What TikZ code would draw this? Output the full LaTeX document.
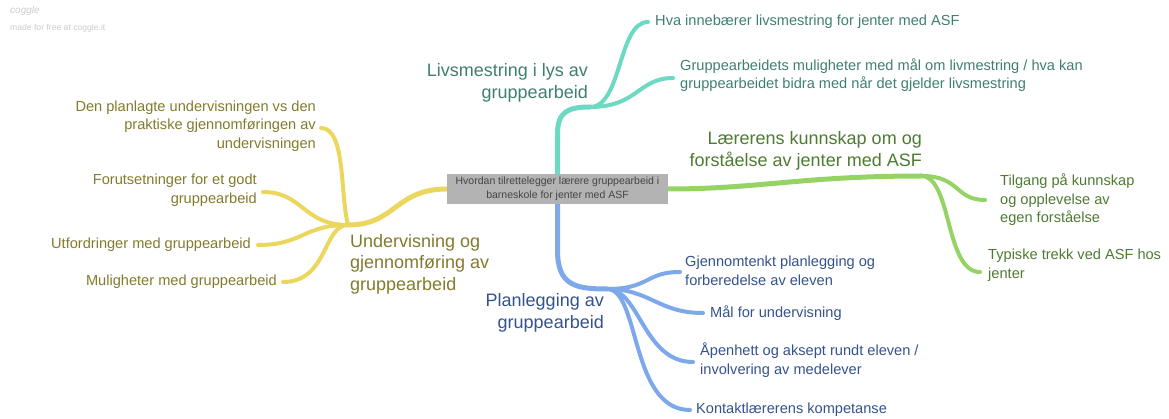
\documentclass[tikz,border=0pt]{standalone}
\usepackage{fontspec}
\setmainfont{Liberation Sans}
\usetikzlibrary{backgrounds}

\definecolor{tealline}{HTML}{6CD9C3}
\definecolor{tealtext}{HTML}{3F7F70}
\definecolor{greenline}{HTML}{95D464}
\definecolor{greentext}{HTML}{4E7A31}
\definecolor{yellowline}{HTML}{EBD75E}
\definecolor{yellowtext}{HTML}{827A2C}
\definecolor{blueline}{HTML}{7DA8EA}
\definecolor{bluetext}{HTML}{34528C}
\definecolor{rootfill}{HTML}{B3B3B3}
\definecolor{roottext}{HTML}{444444}
\definecolor{logogray}{HTML}{CCCCCC}

\tikzset{
  rootbox/.style={fill=rootfill, text=roottext, minimum width=221pt, minimum height=30pt,
    inner sep=0pt, align=center, font=\fontsize{10.5}{13.5}\selectfont},
  mainlabel/.style={inner sep=0pt, font=\fontsize{18}{21.5}\selectfont},
  leaflabel/.style={inner sep=0pt, font=\fontsize{14.6}{18.5}\selectfont},
  trunk/.style={line width=5pt, line cap=round},
  twig/.style={line width=4pt, line cap=round},
}

\begin{document}
\begin{tikzpicture}[x=1pt,y=-1pt]
\useasboundingbox (0,0) rectangle (1169,419);

% logo
\node[anchor=west, inner sep=0pt, text=logogray, font=\fontsize{10}{12}\selectfont\itshape] (logo) at (10,11) {coggle};
\node[anchor=west, inner sep=0pt, text=logogray, font=\fontsize{8.6}{10}\selectfont] (made) at (10,28) {made for free at coggle.it};

% root
\node[rootbox] (root) at (557.5,189) {Hvordan tilrettelegger lærere gruppearbeid i\\barneskole for jenter med ASF};

% teal branch
\node[mainlabel, text=tealtext, align=right, anchor=east] (liv) at (588,83) {Livsmestring i lys av\\gruppearbeid};
\coordinate (livj) at (590,107);
\node[leaflabel, text=tealtext, align=left, anchor=west] (liv1) at (655,22) {Hva innebærer livsmestring for jenter med ASF};
\node[leaflabel, text=tealtext, align=left, anchor=west] (liv2) at (680,75) {Gruppearbeidets muligheter med mål om livmestring / hva kan\\gruppearbeidet bidra med når det gjelder livsmestring};

% green branch
\node[mainlabel, text=greentext, align=right, anchor=east] (lar) at (922,151) {Lærerens kunnskap om og\\forståelse av jenter med ASF};
\coordinate (larj) at (922,176);
\node[leaflabel, text=greentext, align=left, anchor=west] (lar1) at (1000,200) {Tilgang på kunnskap\\og opplevelse av\\egen forståelse};
\node[leaflabel, text=greentext, align=left, anchor=west] (lar2) at (988,265) {Typiske trekk ved ASF hos\\jenter};

% yellow branch
\node[mainlabel, text=yellowtext, align=left, anchor=west] (und) at (350,264) {Undervisning og\\gjennomføring av\\gruppearbeid};
\coordinate (undj) at (348,225);
\node[leaflabel, text=yellowtext, align=right, anchor=east] (und1) at (316,126) {Den planlagte undervisningen vs den\\praktiske gjennomføringen av\\undervisningen};
\node[leaflabel, text=yellowtext, align=right, anchor=east] (und2) at (257,190) {Forutsetninger for et godt\\gruppearbeid};
\node[leaflabel, text=yellowtext, align=right, anchor=east] (und3) at (251,245) {Utfordringer med gruppearbeid};
\node[leaflabel, text=yellowtext, align=right, anchor=east] (und4) at (277,282) {Muligheter med gruppearbeid};

% blue branch
\node[mainlabel, text=bluetext, align=right, anchor=east] (pla) at (604,313) {Planlegging av\\gruppearbeid};
\coordinate (plaj) at (607,289);
\node[leaflabel, text=bluetext, align=left, anchor=west] (pla1) at (685,271) {Gjennomtenkt planlegging og\\forberedelse av eleven};
\node[leaflabel, text=bluetext, align=left, anchor=west] (pla2) at (710,313) {Mål for undervisning};
\node[leaflabel, text=bluetext, align=left, anchor=west] (pla3) at (700,360) {Åpenhett og aksept rundt eleven /\\involvering av medelever};
\node[leaflabel, text=bluetext, align=left, anchor=west] (pla4) at (696,410) {Kontaktlærerens kompetanse};

\begin{pgfonlayer}{background}
  % teal connectors
  \draw[trunk, tealline] (root.north) -- +(0,-40) .. controls +(0,-22) and +(-22,0) .. (livj);
  \draw[twig, tealline] (livj) .. controls +(32,0) and +(-30,0) .. ([xshift=-7pt]liv1.west);
  \draw[twig, tealline] (livj) .. controls +(48,0) and +(-35,0) .. ([xshift=-7pt,yshift=-3pt]liv2.west);
  % green connectors
  \draw[trunk, greenline] (root.east) .. controls +(90,0) and +(-120,0) .. (larj);
  \draw[twig, greenline] (larj) .. controls +(38,0) and +(-30,0) .. ([xshift=-15pt]lar1.west);
  \draw[twig, greenline] (larj) .. controls +(30,2) and +(-35,0) .. ([xshift=-8pt,yshift=-7pt]lar2.west);
  % yellow connectors
  \draw[trunk, yellowline] (root.west) .. controls +(-52,0) and +(48,0) .. (undj);
  \draw[twig, yellowline] (undj) .. controls +(-8,-30) and +(25,0) .. ([xshift=5pt,yshift=-2pt]und1.east);
  \draw[twig, yellowline] (undj) .. controls +(-45,0) and +(40,0) .. ([xshift=6pt,yshift=-2pt]und2.east);
  \draw[twig, yellowline] (undj) .. controls +(-45,0) and +(45,0) .. ([xshift=7pt]und3.east);
  \draw[twig, yellowline] (undj) .. controls +(-25,0) and +(45,0) .. ([xshift=6pt]und4.east);
  % blue connectors
  \draw[trunk, blueline] (root.south) -- +(0,46) .. controls +(0,35) and +(-32,0) .. (plaj);
  \draw[twig, blueline] (plaj) .. controls +(43,0) and +(-35,0) .. ([xshift=-5pt,yshift=-1pt]pla1.west);
  \draw[twig, blueline] (plaj) .. controls +(43,0) and +(-45,0) .. ([xshift=-7pt]pla2.west);
  \draw[twig, blueline] (plaj) .. controls +(33,0) and +(-50,0) .. ([xshift=-7pt,yshift=-2pt]pla3.west);
  \draw[twig, blueline] (plaj) .. controls +(33,0) and +(-60,0) .. ([xshift=-6pt]pla4.west);
\end{pgfonlayer}
\end{tikzpicture}
\end{document}
